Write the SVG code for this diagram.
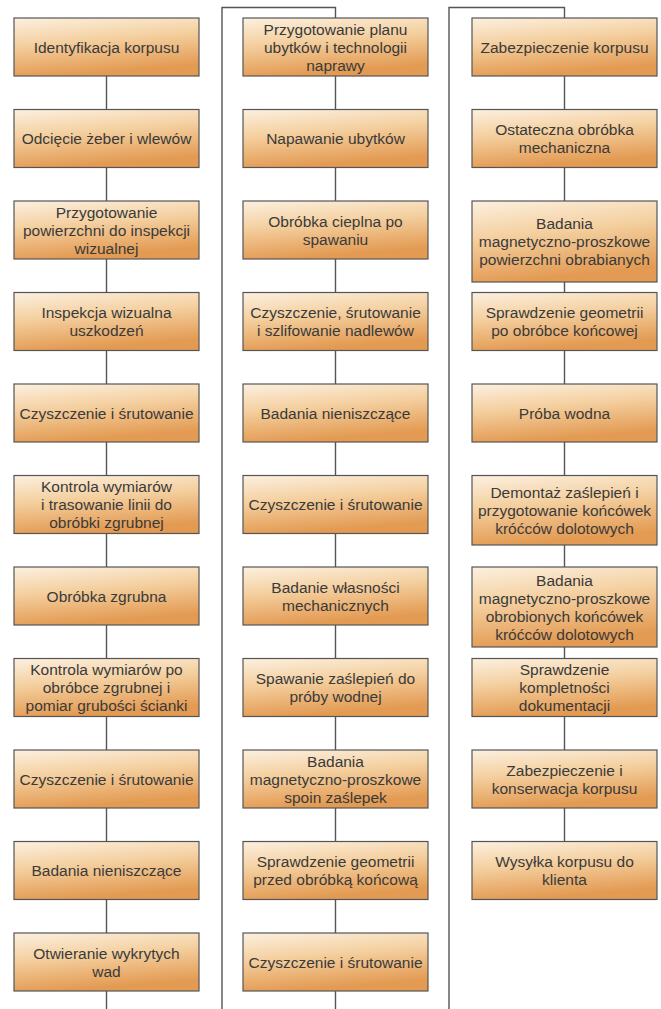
<svg xmlns="http://www.w3.org/2000/svg" width="661" height="1009" viewBox="0 0 661 1009">
<defs>
<linearGradient id="g" x1="0" y1="0" x2="0.25" y2="1">
<stop offset="0" stop-color="#fcf0e0"/>
<stop offset="0.45" stop-color="#f4d0a0"/>
<stop offset="1" stop-color="#e39a52"/>
</linearGradient>
<style>
.b{fill:url(#g);stroke:#555;stroke-width:1.2}
.t{font-family:"Liberation Sans",Arial,sans-serif;font-size:15.5px;fill:#3a3a3a;text-anchor:middle}
.c{fill:none;stroke:#555;stroke-width:1.4}
</style>
</defs>
<rect width="661" height="1009" fill="#fff"/>
<g id="connectors" class="c">
<path d="M106.5 76V109.5M106.5 167.5V201M106.5 259V292.5M106.5 350.5V384M106.5 442V475.5M106.5 533.5V567M106.5 625V658.5M106.5 716.5V750M106.5 808V841.5M106.5 899.5V933"/>
<path d="M106.5 991V1020H222V7.5H335.5V18"/>
<path d="M335.5 76V109.5M335.5 167.5V201M335.5 259V292.5M335.5 350.5V384M335.5 442V475.5M335.5 533.5V567M335.5 625V658.5M335.5 716.5V750M335.5 808V841.5M335.5 899.5V933"/>
<path d="M335.5 991V1020H449V7.5H564.5V18"/>
<path d="M564.5 76V109.5M564.5 167.5V201M564.5 282V292.5M564.5 350.5V384M564.5 442V475.5M564.5 545V567M564.5 647V658.5M564.5 716.5V750M564.5 808V841.5"/>
</g>
<g id="n1"><rect class="b" x="14" y="18" width="185" height="58"/><text class="t" x="106.5" y="52.5">Identyfikacja korpusu</text></g>
<g id="n2"><rect class="b" x="14" y="109.5" width="185" height="58"/><text class="t" x="106.5" y="144">Odcięcie żeber i wlewów</text></g>
<g id="n3"><rect class="b" x="14" y="201" width="185" height="58"/><text class="t" x="106.5" y="217.5">Przygotowanie</text><text class="t" x="106.5" y="235.5">powierzchni do inspekcji</text><text class="t" x="106.5" y="253.5">wizualnej</text></g>
<g id="n4"><rect class="b" x="14" y="292.5" width="185" height="58"/><text class="t" x="106.5" y="318">Inspekcja wizualna</text><text class="t" x="106.5" y="336">uszkodzeń</text></g>
<g id="n5"><rect class="b" x="14" y="384" width="185" height="58"/><text class="t" x="106.5" y="418.5">Czyszczenie i śrutowanie</text></g>
<g id="n6"><rect class="b" x="14" y="475.5" width="185" height="58"/><text class="t" x="106.5" y="492">Kontrola wymiarów</text><text class="t" x="106.5" y="510">i trasowanie linii do</text><text class="t" x="106.5" y="528">obróbki zgrubnej</text></g>
<g id="n7"><rect class="b" x="14" y="567" width="185" height="58"/><text class="t" x="106.5" y="601.5">Obróbka zgrubna</text></g>
<g id="n8"><rect class="b" x="14" y="658.5" width="185" height="58"/><text class="t" x="106.5" y="675">Kontrola wymiarów po</text><text class="t" x="106.5" y="693">obróbce zgrubnej i</text><text class="t" x="106.5" y="711">pomiar grubości ścianki</text></g>
<g id="n9"><rect class="b" x="14" y="750" width="185" height="58"/><text class="t" x="106.5" y="784.5">Czyszczenie i śrutowanie</text></g>
<g id="n10"><rect class="b" x="14" y="841.5" width="185" height="58"/><text class="t" x="106.5" y="876">Badania nieniszczące</text></g>
<g id="n11"><rect class="b" x="14" y="933" width="185" height="58"/><text class="t" x="106.5" y="958.5">Otwieranie wykrytych</text><text class="t" x="106.5" y="976.5">wad</text></g>
<g id="n12"><rect class="b" x="243" y="18" width="185" height="58"/><text class="t" x="335.5" y="34.5">Przygotowanie planu</text><text class="t" x="335.5" y="52.5">ubytków i technologii</text><text class="t" x="335.5" y="70.5">naprawy</text></g>
<g id="n13"><rect class="b" x="243" y="109.5" width="185" height="58"/><text class="t" x="335.5" y="144">Napawanie ubytków</text></g>
<g id="n14"><rect class="b" x="243" y="201" width="185" height="58"/><text class="t" x="335.5" y="226.5">Obróbka cieplna po</text><text class="t" x="335.5" y="244.5">spawaniu</text></g>
<g id="n15"><rect class="b" x="243" y="292.5" width="185" height="58"/><text class="t" x="335.5" y="318">Czyszczenie, śrutowanie</text><text class="t" x="335.5" y="336">i szlifowanie nadlewów</text></g>
<g id="n16"><rect class="b" x="243" y="384" width="185" height="58"/><text class="t" x="335.5" y="418.5">Badania nieniszczące</text></g>
<g id="n17"><rect class="b" x="243" y="475.5" width="185" height="58"/><text class="t" x="335.5" y="510">Czyszczenie i śrutowanie</text></g>
<g id="n18"><rect class="b" x="243" y="567" width="185" height="58"/><text class="t" x="335.5" y="592.5">Badanie własności</text><text class="t" x="335.5" y="610.5">mechanicznych</text></g>
<g id="n19"><rect class="b" x="243" y="658.5" width="185" height="58"/><text class="t" x="335.5" y="684">Spawanie zaślepień do</text><text class="t" x="335.5" y="702">próby wodnej</text></g>
<g id="n20"><rect class="b" x="243" y="750" width="185" height="58"/><text class="t" x="335.5" y="766.5">Badania</text><text class="t" x="335.5" y="784.5">magnetyczno-proszkowe</text><text class="t" x="335.5" y="802.5">spoin zaślepek</text></g>
<g id="n21"><rect class="b" x="243" y="841.5" width="185" height="58"/><text class="t" x="335.5" y="867">Sprawdzenie geometrii</text><text class="t" x="335.5" y="885">przed obróbką końcową</text></g>
<g id="n22"><rect class="b" x="243" y="933" width="185" height="58"/><text class="t" x="335.5" y="967.5">Czyszczenie i śrutowanie</text></g>
<g id="n23"><rect class="b" x="472" y="18" width="185" height="58"/><text class="t" x="564.5" y="52.5">Zabezpieczenie korpusu</text></g>
<g id="n24"><rect class="b" x="472" y="109.5" width="185" height="58"/><text class="t" x="564.5" y="135">Ostateczna obróbka</text><text class="t" x="564.5" y="153">mechaniczna</text></g>
<g id="n25"><rect class="b" x="472" y="201" width="185" height="81"/><text class="t" x="564.5" y="229">Badania</text><text class="t" x="564.5" y="247">magnetyczno-proszkowe</text><text class="t" x="564.5" y="265">powierzchni obrabianych</text></g>
<g id="n26"><rect class="b" x="472" y="292.5" width="185" height="58"/><text class="t" x="564.5" y="318">Sprawdzenie geometrii</text><text class="t" x="564.5" y="336">po obróbce końcowej</text></g>
<g id="n27"><rect class="b" x="472" y="384" width="185" height="58"/><text class="t" x="564.5" y="418.5">Próba wodna</text></g>
<g id="n28"><rect class="b" x="472" y="475.5" width="185" height="69.5"/><text class="t" x="564.5" y="497.5">Demontaż zaślepień i</text><text class="t" x="564.5" y="515.5">przygotowanie końcówek</text><text class="t" x="564.5" y="533.5">króćców dolotowych</text></g>
<g id="n29"><rect class="b" x="472" y="567" width="185" height="80"/><text class="t" x="564.5" y="585.5">Badania</text><text class="t" x="564.5" y="603.5">magnetyczno-proszkowe</text><text class="t" x="564.5" y="621.5">obrobionych końcówek</text><text class="t" x="564.5" y="639.5">króćców dolotowych</text></g>
<g id="n30"><rect class="b" x="472" y="658.5" width="185" height="58"/><text class="t" x="564.5" y="675">Sprawdzenie</text><text class="t" x="564.5" y="693">kompletności</text><text class="t" x="564.5" y="711">dokumentacji</text></g>
<g id="n31"><rect class="b" x="472" y="750" width="185" height="58"/><text class="t" x="564.5" y="775.5">Zabezpieczenie i</text><text class="t" x="564.5" y="793.5">konserwacja korpusu</text></g>
<g id="n32"><rect class="b" x="472" y="841.5" width="185" height="58"/><text class="t" x="564.5" y="867">Wysyłka korpusu do</text><text class="t" x="564.5" y="885">klienta</text></g>
</svg>
